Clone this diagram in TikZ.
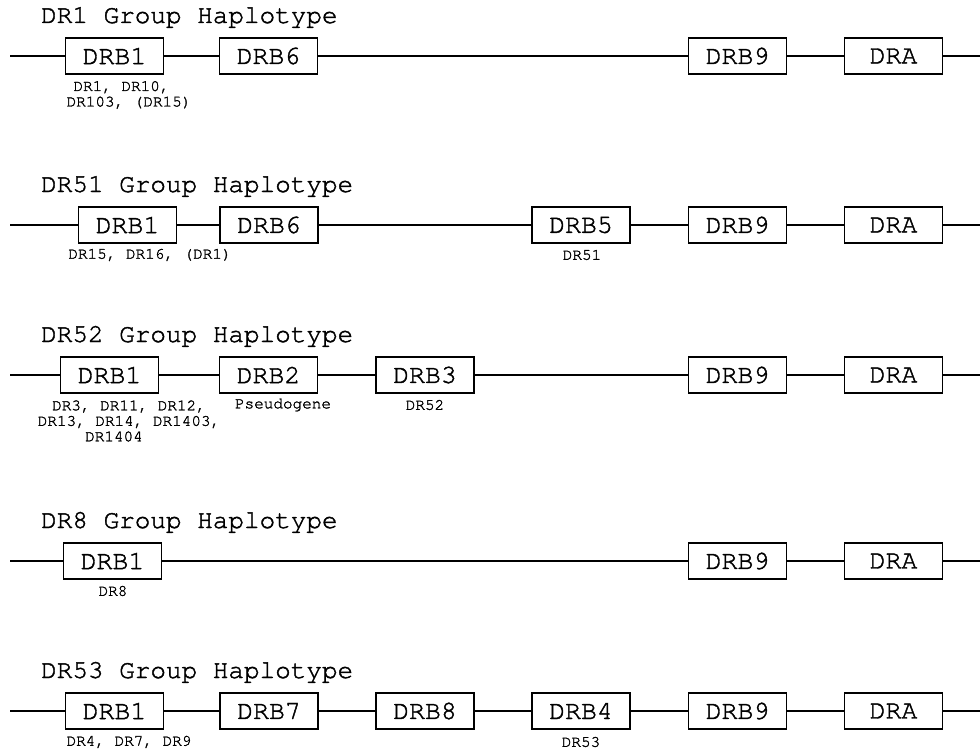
\documentclass[tikz,border=0pt]{standalone}
\usepackage{fontspec}
\setmainfont[FakeBold=1.6]{TeX Gyre Cursor}
\tikzstyle{gene}=[draw=black,line width=1.4pt,minimum width=98pt,minimum height=36pt,inner sep=0pt,font=\fontsize{26.5}{26}\selectfont]
\tikzstyle{hap}=[anchor=base west,inner sep=0pt,font=\fontsize{26}{26}\selectfont]
\tikzstyle{allele}=[inner sep=0pt,align=center,font=\fontsize{16}{15.5}\selectfont]
\tikzstyle{wire}=[line width=1.4pt]
\begin{document}
\begin{tikzpicture}[x=1pt,y=-1pt]
\useasboundingbox (0,0) rectangle (980,749);
% DR1
\node[hap] (t1) at (41,23) {DR1 Group Haplotype};
\coordinate (r1l) at (10,56); \coordinate (r1r) at (980,56);
\node[gene] (r1b1) at (114.5,56) {DRB1};
\node[gene] (r1b6) at (268.5,56) {DRB6};
\node[gene] (r1b9) at (737.5,56) {DRB9};
\node[gene] (r1a) at (893.5,56) {DRA};
\node[allele] (r1s1) at (129,95) {DR1, DR10,\rule{15pt}{0pt}\\DR103, (DR15)};
\draw[wire] (r1l) -- (r1b1) -- (r1b6) -- (r1b9) -- (r1a) -- (r1r);
% DR51
\node[hap] (t2) at (41,192) {DR51 Group Haplotype};
\coordinate (r2l) at (10,225); \coordinate (r2r) at (980,225);
\node[gene] (r2b1) at (127.5,225) {DRB1};
\node[gene] (r2b6) at (269,225) {DRB6};
\node[gene] (r2b5) at (581,225) {DRB5};
\node[gene] (r2b9) at (737.5,225) {DRB9};
\node[gene] (r2a) at (893.5,225) {DRA};
\node[allele] (r2s1) at (150,255) {DR15, DR16, (DR1)};
\node[allele] (r2s5) at (582,255) {DR51};
\draw[wire] (r2l) -- (r2b1) -- (r2b6) -- (r2b5) -- (r2b9) -- (r2a) -- (r2r);
% DR52
\node[hap] (t3) at (41,342) {DR52 Group Haplotype};
\coordinate (r3l) at (10,375); \coordinate (r3r) at (980,375);
\node[gene] (r3b1) at (109.5,375) {DRB1};
\node[gene] (r3b2) at (268.5,375) {DRB2};
\node[gene] (r3b3) at (425,375) {DRB3};
\node[gene] (r3b9) at (737.5,375) {DRB9};
\node[gene] (r3a) at (893.5,375) {DRA};
\node[allele] (r3s1) at (129,421) {DR3, DR11, DR12,\\DR13, DR14, DR1403,\\DR1404\rule{30pt}{0pt}};
\node[allele] (r3s2) at (283,405) {Pseudogene};
\node[allele] (r3s3) at (425,405) {DR52};
\draw[wire] (r3l) -- (r3b1) -- (r3b2) -- (r3b3) -- (r3b9) -- (r3a) -- (r3r);
% DR8
\node[hap] (t4) at (41,528) {DR8 Group Haplotype};
\coordinate (r4l) at (10,561); \coordinate (r4r) at (980,561);
\node[gene] (r4b1) at (112.5,561) {DRB1};
\node[gene] (r4b9) at (737.5,561) {DRB9};
\node[gene] (r4a) at (893.5,561) {DRA};
\node[allele] (r4s1) at (113,591) {DR8};
\draw[wire] (r4l) -- (r4b1) -- (r4b9) -- (r4a) -- (r4r);
% DR53
\node[hap] (t5) at (41,678) {DR53 Group Haplotype};
\coordinate (r5l) at (10,711); \coordinate (r5r) at (980,711);
\node[gene] (r5b1) at (114.5,711) {DRB1};
\node[gene] (r5b7) at (269,711) {DRB7};
\node[gene] (r5b8) at (425,711) {DRB8};
\node[gene] (r5b4) at (581,711) {DRB4};
\node[gene] (r5b9) at (737.5,711) {DRB9};
\node[gene] (r5a) at (893.5,711) {DRA};
\node[allele] (r5s1) at (129,742) {DR4, DR7, DR9};
\node[allele] (r5s4) at (581,742) {DR53};
\draw[wire] (r5l) -- (r5b1) -- (r5b7) -- (r5b8) -- (r5b4) -- (r5b9) -- (r5a) -- (r5r);
\end{tikzpicture}
\end{document}
